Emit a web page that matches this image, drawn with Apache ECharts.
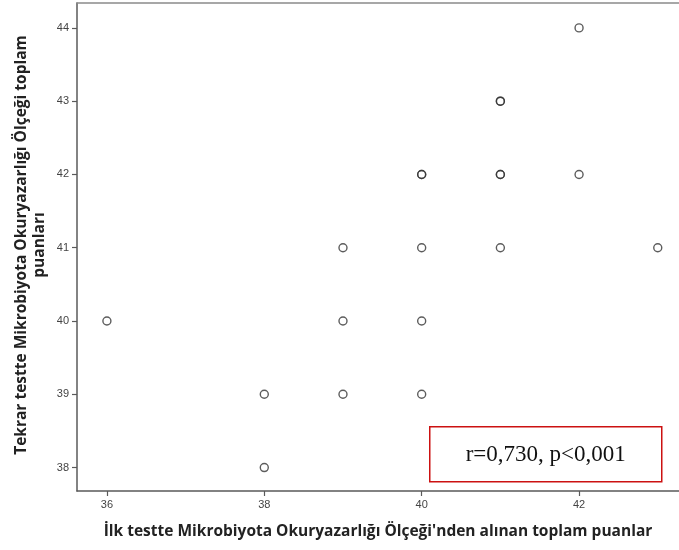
<!DOCTYPE html>
<html>
<head>
<meta charset="utf-8">
<script src="https://cdn.jsdelivr.net/npm/echarts@6/dist/echarts.min.js"></script>
<style>
  html, body { margin: 0; padding: 0; background: #fff; }
  #chart { width: 679px; height: 550px; }
</style>
</head>
<body>
<div id="chart"></div>
<script>
// First-test and retest scores (repeated pairs appear as overlapping rings)
const firstTest = [36, 38, 38, 39, 39, 39, 40, 40, 40, 40, 40, 41, 41, 41, 41, 41, 42, 42, 43];
const retest    = [40, 39, 38, 41, 40, 39, 42, 42, 41, 40, 39, 43, 43, 42, 42, 41, 44, 42, 41];

const xTicks = [36, 38, 40, 42];
const yTicks = [38, 39, 40, 41, 42, 43, 44];

const xTitle = "İlk testte Mikrobiyota Okuryazarlığı Ölçeği'nden alınan toplam puanlar";
const yTitle = "Tekrar testte Mikrobiyota Okuryazarlığı Ölçeği toplam\npuanları";
const statText = "r=0,730, p<0,001";

const points = firstTest.map((x, i) => [x, retest[i]]);

const chart = echarts.init(document.getElementById('chart'), null, { renderer: 'canvas' });

const lineCol = '#5a5a5a';
const axisTick = { show: true, length: 5, lineStyle: { color: lineCol, width: 1.2 } };
const axisLabel = { color: '#444', fontSize: 11, fontFamily: 'Liberation Sans, Arial' };
const titleStyle = { color: '#222', fontSize: 15.5, fontWeight: 'bold', fontFamily: 'Open Sans' };

chart.setOption({
  animation: false,
  backgroundColor: '#fff',
  grid: { left: 77, top: 3, right: 0, bottom: 59, show: false },
  xAxis: [{
    type: 'value', min: 35.62, max: 43.27,
    splitLine: { show: false },
    axisLine: { show: true, onZero: false, lineStyle: { color: lineCol, width: 1.5 } },
    axisTick: { ...axisTick, customValues: xTicks },
    axisLabel: { ...axisLabel, margin: 8, customValues: xTicks, formatter: v => String(v) },
    name: xTitle, nameLocation: 'middle', nameGap: 33,
    nameTextStyle: titleStyle
  }, {
    // frame line along the top edge of the plot
    type: 'value', position: 'top', min: 35.62, max: 43.27,
    axisLine: { show: true, onZero: false, lineStyle: { color: '#8a8a8a', width: 1.5 } },
    axisTick: { show: false }, axisLabel: { show: false }, splitLine: { show: false }
  }],
  yAxis: {
    type: 'value', min: 37.68, max: 44.34,
    splitLine: { show: false },
    axisLine: { show: true, onZero: false, lineStyle: { color: lineCol, width: 1.5 } },
    axisTick: { ...axisTick, customValues: yTicks },
    axisLabel: { ...axisLabel, margin: 8, customValues: yTicks, formatter: v => String(v) }
  },
  series: [{
    type: 'scatter',
    data: points,
    symbol: 'circle',
    symbolSize: 8,
    itemStyle: { color: 'rgba(255,255,255,0)', borderColor: '#333', borderWidth: 1.4 }
  }],
  graphic: [{
    // vertical axis title, two centred lines reading bottom to top
    type: 'text',
    x: 31, y: 245,
    rotation: Math.PI / 2,
    style: {
      text: yTitle,
      fill: titleStyle.color,
      font: 'bold 15.5px "Open Sans"',
      lineHeight: 18,
      align: 'center', verticalAlign: 'middle'
    }
  }, {
    type: 'group',
    left: 429, top: 426,
    children: [{
      type: 'rect',
      shape: { x: 0, y: 0, width: 232, height: 55 },
      style: { fill: '#fff', stroke: '#cc1111', lineWidth: 1.5 }
    }, {
      type: 'text',
      x: 116, y: 28,
      style: {
        text: statText,
        fill: '#111',
        font: '23px "Liberation Serif", "Times New Roman", serif',
        align: 'center', verticalAlign: 'middle'
      }
    }]
  }]
});
</script>
</body>
</html>
